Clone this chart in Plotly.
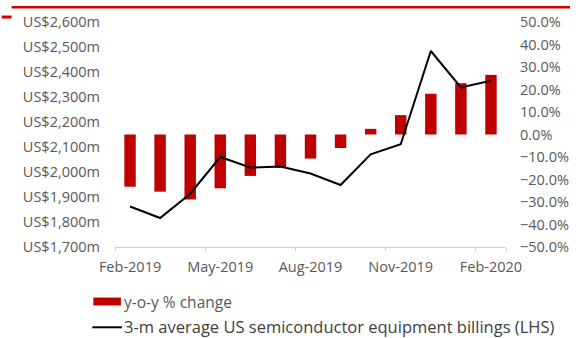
import plotly.graph_objects as go

# Monthly data, Feb-2019 .. Feb-2020
months = ["Feb-2019", "Mar-2019", "Apr-2019", "May-2019", "Jun-2019", "Jul-2019",
          "Aug-2019", "Sep-2019", "Oct-2019", "Nov-2019", "Dec-2019", "Jan-2020", "Feb-2020"]
yoy_change = [-23.2, -25.4, -28.9, -23.9, -18.4, -14.7, -10.7, -6.0, 2.5, 8.6, 18.1, 22.8, 26.5]
billings_3m = [1862, 1816, 1913, 2060, 2018, 2022, 1994, 1948, 2071, 2111, 2484, 2338, 2365]
tick_months = ["Feb-2019", "May-2019", "Aug-2019", "Nov-2019", "Feb-2020"]

legend_labels = ["y-o-y % change", "3-m average US semiconductor equipment billings (LHS)"]

W, H = 581, 338
ML, MR, MT, MB = 115, 69, 20, 91
PW, PH = W - ML - MR, H - MT - MB

RED = "#C00000"
GREY_TXT = "#595959"
FONT = "Open Sans"
TICK_SIZE = 14.5


def px_x(x):
    return (x - ML) / PW


def px_y(y):
    return (H - MB - y) / PH


fig = go.Figure()

# y-o-y bars on the right-hand percentage axis
fig.add_trace(go.Bar(
    x=months, y=yoy_change, yaxis="y",
    marker=dict(color=RED, line=dict(width=0)),
    name=legend_labels[0], showlegend=False,
))

# 3-month average billings on the left-hand dollar axis (drawn on top)
fig.add_trace(go.Scatter(
    x=months, y=billings_3m, yaxis="y2", mode="lines",
    line=dict(color="black", width=2),
    name=legend_labels[1], showlegend=False,
))

shapes = [
    # red rule at the top of the panel
    dict(type="line", xref="paper", yref="paper",
         x0=px_x(10), x1=px_x(577), y0=px_y(5), y1=px_y(5),
         line=dict(color="#D00000", width=2.5)),
    dict(type="line", xref="paper", yref="paper",
         x0=px_x(0), x1=px_x(10), y0=px_y(15), y1=px_y(15),
         line=dict(color="#D00000", width=3)),
    # legend keys
    dict(type="rect", xref="paper", yref="paper",
         x0=px_x(93), x1=px_x(121), y0=px_y(306), y1=px_y(298),
         fillcolor=RED, line=dict(width=0)),
    dict(type="line", xref="paper", yref="paper",
         x0=px_x(92), x1=px_x(122), y0=px_y(328), y1=px_y(328),
         line=dict(color="black", width=2)),
]

annotations = [
    dict(text=legend_labels[0], xref="paper", yref="paper",
         x=px_x(122), y=px_y(302), xanchor="left", yanchor="middle",
         showarrow=False, font=dict(family=FONT, size=15.5, color=GREY_TXT)),
    dict(text=legend_labels[1], xref="paper", yref="paper",
         x=px_x(122), y=px_y(327), xanchor="left", yanchor="middle",
         showarrow=False, font=dict(family=FONT, size=16.5, color="#404040")),
]

fig.update_layout(
    width=W, height=H,
    margin=dict(l=ML, r=MR, t=MT, b=MB, pad=0),
    paper_bgcolor="white", plot_bgcolor="white",
    font=dict(family=FONT, size=TICK_SIZE, color=GREY_TXT),
    bargap=0.62,
    showlegend=False,
    xaxis=dict(
        type="category", categoryorder="array", categoryarray=months,
        tickmode="array", tickvals=tick_months, ticktext=tick_months,
        tickangle=0,
        tickson="boundaries", ticks="outside", ticklen=3, tickcolor="#d0d0d0",
        showline=True, linecolor="#d0d0d0", linewidth=1,
        showgrid=False, zeroline=False,
        ticklabelstandoff=7,
        tickfont=dict(family=FONT, size=TICK_SIZE, color=GREY_TXT),
    ),
    yaxis=dict(
        side="right", range=[-50, 50], dtick=10, tick0=0,
        tickformat=".1f", ticksuffix="%",
        showgrid=False, zeroline=False, showline=False, ticks="",
        ticklabelstandoff=13,
        tickfont=dict(family=FONT, size=TICK_SIZE, color=GREY_TXT),
    ),
    yaxis2=dict(
        overlaying="y", side="left", range=[1700, 2600], dtick=100, tick0=1700,
        tickformat=",d", tickprefix="US$", ticksuffix="m",
        showgrid=False, zeroline=False, showline=False, ticks="",
        ticklabelstandoff=14,
        tickfont=dict(family=FONT, size=TICK_SIZE, color=GREY_TXT),
    ),
    shapes=shapes,
    annotations=annotations,
)

fig.write_html("out.html")
